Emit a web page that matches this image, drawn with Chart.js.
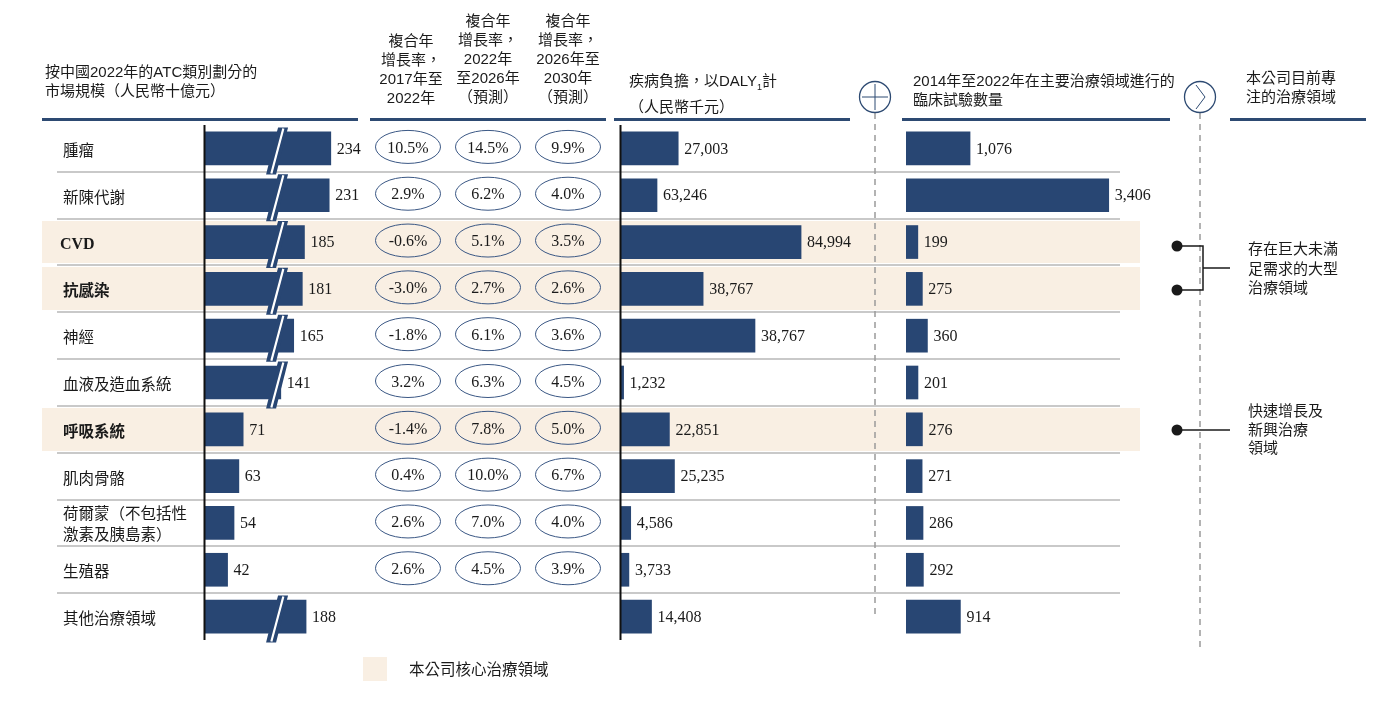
<!DOCTYPE html>
<html><head><meta charset="utf-8">
<script src="https://cdn.jsdelivr.net/npm/chart.js@4.4.1/dist/chart.umd.min.js"></script>
<style>
html,body{margin:0;padding:0}
body{width:1398px;height:714px;position:relative;background:#fff;overflow:hidden;font-family:"Liberation Sans","Noto Sans CJK TC",sans-serif;color:#1a1a1a}
.abs{position:absolute}
.hdr{position:absolute;font-size:15px;line-height:19px;white-space:pre;color:#1a1a1a}
.ctr{text-align:center;transform:translateX(-50%)}
.cat{position:absolute;left:63px;font-family:"Noto Sans CJK TC","Liberation Sans",sans-serif;font-size:15.5px;line-height:21px;white-space:pre;transform:translateY(-50%);color:#1a1a1a}
.cat.bold{font-weight:bold}
.serifb{font-family:"Liberation Serif","Times New Roman",serif;font-weight:bold;font-size:16px}
canvas{position:absolute}
.ann{position:absolute;left:1248px;font-family:"Noto Sans CJK TC",sans-serif;font-size:15px;line-height:19.5px;white-space:pre;color:#1a1a1a}
</style></head>
<body>
<div id="bg" class="abs" style="left:0;top:0;width:1398px;height:714px"></div>

<canvas id="cMarket" width="170" height="520" style="left:203px;top:125px"></canvas>
<canvas id="cCagr" width="240" height="515" style="left:368px;top:125px"></canvas>
<canvas id="cDaly" width="250" height="515" style="left:619px;top:125px"></canvas>
<canvas id="cTrials" width="265" height="515" style="left:906px;top:125px"></canvas>

<svg class="abs" width="1398" height="714" style="left:0;top:0">
  <g stroke="#2d4a72" stroke-width="3">
    <line x1="42" y1="119.5" x2="358" y2="119.5"/>
    <line x1="370" y1="119.5" x2="606" y2="119.5"/>
    <line x1="614" y1="119.5" x2="850" y2="119.5"/>
    <line x1="902" y1="119.5" x2="1170" y2="119.5"/>
    <line x1="1230" y1="119.5" x2="1366" y2="119.5"/>
  </g>
  <g stroke="#9a9a9a" stroke-width="1.5" stroke-dasharray="6 5">
    <line x1="875" y1="113" x2="875" y2="617"/>
    <line x1="1200" y1="113" x2="1200" y2="648"/>
  </g>
  <g fill="#fff" stroke="#2d4a72" stroke-width="1.3">
    <circle cx="875" cy="97" r="15.5"/>
    <circle cx="1200" cy="97" r="15.5"/>
  </g>
  <g stroke="#2d4a72" stroke-width="1" fill="none">
    <line x1="862" y1="97" x2="888" y2="97"/>
    <line x1="875" y1="84" x2="875" y2="110"/>
    <polyline points="1196,85 1205,97 1196,109"/>
  </g>
  <g stroke="#1a1a1a" stroke-width="1.5" fill="none">
    <polyline points="1177,246 1203,246 1203,290 1177,290"/>
    <line x1="1203" y1="268" x2="1230" y2="268"/>
    <line x1="1177" y1="430" x2="1230" y2="430"/>
  </g>
  <g fill="#1a1a1a">
    <circle cx="1177" cy="246" r="5.5"/>
    <circle cx="1177" cy="290" r="5.5"/>
    <circle cx="1177" cy="430" r="5.5"/>
  </g>
  <rect x="363" y="657" width="24" height="24" fill="#f9efe3"/>
</svg>

<div class="hdr" style="left:45px;top:61.5px">按中國2022年的ATC類別劃分的
市場規模（人民幣十億元）</div>
<div class="hdr ctr" style="left:411px;top:30.5px">複合年
增長率，
2017年至
2022年</div>
<div class="hdr ctr" style="left:488px;top:11px">複合年
增長率，
2022年
至2026年
（預測）</div>
<div class="hdr ctr" style="left:568px;top:11px">複合年
增長率，
2026年至
2030年
（預測）</div>
<div class="hdr" style="left:629px;top:70.5px">疾病負擔，以DALY<sub style="font-size:9px">1</sub>計
（人民幣千元）</div>
<div class="hdr" style="left:913px;top:70.5px">2014年至2022年在主要治療領域進行的
臨床試驗數量</div>
<div class="hdr" style="left:1246px;top:67.5px">本公司目前專
注的治療領域</div>

<div class="ann" style="top:238px">存在巨大未滿
足需求的大型
治療領域</div>
<div class="ann" style="top:401px;line-height:18.5px">快速增長及
新興治療
領域</div>
<div class="hdr" style="left:409px;top:659px;font-family:'Noto Sans CJK TC',sans-serif;font-size:15.5px">本公司核心治療領域</div>

<div id="cats"></div>

<script>
// ---------------- data ----------------
const categories = ['腫瘤', '新陳代謝', 'CVD', '抗感染', '神經', '血液及造血系統', '呼吸系統', '肌肉骨骼', '荷爾蒙（不包括性\n激素及胰島素）', '生殖器', '其他治療領域'];
const coreAreas = [false, false, true, true, false, false, true, false, false, false, false];
const marketSize = [234, 231, 185, 181, 165, 141, 71, 63, 54, 42, 188];
const brokenBars = [true, true, true, true, true, true, false, false, false, false, true];
const cagr2017to2022 = [10.5, 2.9, -0.6, -3.0, -1.8, 3.2, -1.4, 0.4, 2.6, 2.6, null];
const cagr2022to2026 = [14.5, 6.2, 5.1, 2.7, 6.1, 6.3, 7.8, 10.0, 7.0, 4.5, null];
const cagr2026to2030 = [9.9, 4.0, 3.5, 2.6, 3.6, 4.5, 5.0, 6.7, 4.0, 3.9, null];
// printed DALY values
const dalyLabels = [27003, 63246, 84994, 38767, 38767, 1232, 22851, 25235, 4586, 3733, 14408];
// DALY bar lengths as drawn in the reference (two rows do not match their printed labels there)
const dalyBars = [27003, 17000, 84994, 38767, 63246, 1232, 22851, 25235, 4586, 3733, 14408];
const clinicalTrials = [1076, 3406, 199, 275, 360, 201, 276, 271, 286, 292, 914];

// ---------------- layout / style ----------------
const NAVY = '#284673';
const ROWS_TOP = 125, ROWS_H = 515, N = categories.length;
const rowY = i => ROWS_TOP + ROWS_H / N * (i + 0.5);
const HL = '#f9efe3', SEP = '#c9c9c9';
const SERIF = '"Liberation Serif","Times New Roman",serif';

// background rows
const bg = document.getElementById('bg');
const band = ROWS_H / N;
coreAreas.forEach((c, i) => {
  if (!c) return;
  const d = document.createElement('div');
  d.className = 'abs';
  d.style.cssText = `left:42px;width:1098px;top:${ROWS_TOP + band * i + 2}px;height:${band - 4}px;background:${HL}`;
  bg.appendChild(d);
});
for (let i = 1; i < N; i++) {
  const d = document.createElement('div');
  d.className = 'abs';
  d.style.cssText = `left:57px;width:1063px;top:${ROWS_TOP + band * i - 1}px;height:2px;background:${SEP}`;
  bg.appendChild(d);
}
// category labels
const cats = document.getElementById('cats');
categories.forEach((c, i) => {
  const d = document.createElement('div');
  d.className = 'cat' + (coreAreas[i] ? ' bold' : '');
  if (c === 'CVD') { d.classList.add('serifb'); d.style.left = '60px'; }
  d.style.top = (rowY(i) + 0.5) + 'px';
  d.textContent = c;
  cats.appendChild(d);
});

Chart.defaults.animation = false;
Chart.defaults.plugins.legend.display = false;
Chart.defaults.plugins.tooltip.enabled = false;

function valueLabelPlugin(labels) {
  return {
    id: 'valueLabels',
    afterDatasetsDraw(chart) {
      const ctx = chart.ctx, meta = chart.getDatasetMeta(0);
      ctx.save();
      ctx.font = '16px ' + SERIF;
      ctx.fillStyle = '#1a1a1a';
      ctx.textBaseline = 'middle';
      meta.data.forEach((el, i) => ctx.fillText(labels[i].toLocaleString('en-US'), el.x + 6, el.y + 1));
      ctx.restore();
    }
  };
}
function axisLinePlugin(extraBottom) {
  return {
    id: 'axisLine',
    afterDatasetsDraw(chart) {
      const ctx = chart.ctx, a = chart.chartArea;
      const x = chart.scales.x.getPixelForValue(0) - 0.5;
      ctx.save();
      ctx.strokeStyle = '#111'; ctx.lineWidth = 2;
      ctx.beginPath(); ctx.moveTo(x, a.top); ctx.lineTo(x, a.bottom + extraBottom); ctx.stroke();
      ctx.restore();
    }
  };
}
const BREAK_AT = 134;
const breakPlugin = {
  id: 'breaks',
  afterDatasetsDraw(chart) {
    const ctx = chart.ctx, meta = chart.getDatasetMeta(0);
    const xc = chart.scales.x.getPixelForValue(BREAK_AT);
    meta.data.forEach((el, i) => {
      if (!brokenBars[i]) return;
      const top = el.y - 21, bot = el.y + 26, xt = xc + 6, xb = xc - 6, hw = 5;
      ctx.save();
      ctx.beginPath();
      ctx.moveTo(xt - hw, top); ctx.lineTo(xt + hw, top); ctx.lineTo(xb + hw, bot); ctx.lineTo(xb - hw, bot);
      ctx.closePath(); ctx.fillStyle = NAVY; ctx.fill();
      ctx.beginPath(); ctx.moveTo(xt + 0.3, top + 1); ctx.lineTo(xb + 0.3, bot - 1);
      ctx.strokeStyle = '#ffffff'; ctx.lineWidth = 2.2; ctx.stroke();
      ctx.restore();
    });
  }
};

function hbar(id, values, max, plugins, padL, padB) {
  return new Chart(document.getElementById(id), {
    type: 'bar',
    data: { labels: categories, datasets: [{ data: values, backgroundColor: NAVY, borderWidth: 0, barThickness: 33 }] },
    options: {
      indexAxis: 'y', responsive: false,
      layout: { padding: { left: padL, right: 0, top: 0, bottom: padB } },
      scales: { x: { display: false, min: 0, max }, y: { display: false } }
    },
    plugins
  });
}

hbar('cMarket', marketSize, 168 * 1.86, [breakPlugin, valueLabelPlugin(marketSize), axisLinePlugin(0)], 2, 5);
hbar('cDaly', dalyBars, 248 * 472, [valueLabelPlugin(dalyLabels), axisLinePlugin(0)], 2, 0);
hbar('cTrials', clinicalTrials, 265 * 16.8, [valueLabelPlugin(clinicalTrials)], 0, 0);

// CAGR table drawn as ellipse cells through a scatter chart's scales
const cagrCols = [cagr2017to2022, cagr2022to2026, cagr2026to2030];
const ellipsePlugin = {
  id: 'ellipses',
  afterDatasetsDraw(chart) {
    const ctx = chart.ctx;
    chart.data.datasets.forEach((ds, d) => {
      chart.getDatasetMeta(d).data.forEach((el, k) => {
        const v = ds.data[k].v;
        ctx.save();
        ctx.beginPath();
        ctx.ellipse(el.x, el.y - 1.5, 32.5, 16.5, 0, 0, Math.PI * 2);
        ctx.strokeStyle = '#3a5784'; ctx.lineWidth = 1; ctx.stroke();
        ctx.font = '16px ' + SERIF; ctx.fillStyle = '#1a1a1a';
        ctx.textAlign = 'center'; ctx.textBaseline = 'middle';
        ctx.fillText(v.toFixed(1) + '%', el.x, el.y);
        ctx.restore();
      });
    });
  }
};
new Chart(document.getElementById('cCagr'), {
  type: 'scatter',
  data: {
    datasets: cagrCols.map((col, c) => ({
      data: col.map((v, i) => ({ x: c + 0.5, y: i + 0.5, v })).filter(p => p.v !== null),
      pointRadius: 0
    }))
  },
  options: {
    responsive: false,
    layout: { padding: 0 },
    scales: { x: { display: false, min: 0, max: 3 }, y: { display: false, min: 0, max: N, reverse: true } }
  },
  plugins: [ellipsePlugin]
});
</script>
</body></html>
